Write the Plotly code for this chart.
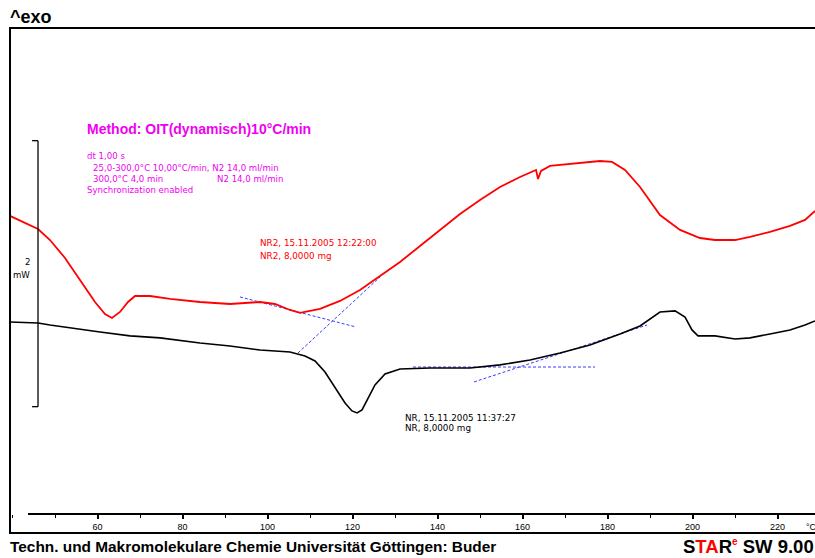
import plotly.graph_objects as go

# ---------------- data ----------------
temp_nr2 = [39.41, 46.0, 48.82, 52.35, 55.88, 59.41, 61.76, 63.41, 65.29, 67.18, 68.82, 72.35, 77.06,
            84.12, 91.18, 98.24, 101.76, 105.29, 107.65, 112.35, 117.06, 121.76, 126.47, 131.18,
            135.88, 140.59, 145.29, 150.0, 154.71, 159.41, 162.47, 163.18, 163.65, 164.35, 166.47,
            171.18, 178.24, 181.06, 184.12, 187.65, 192.35, 197.06, 201.76, 205.29, 210.0, 213.53,
            218.24, 222.94, 226.47, 228.82]
hf_nr2 = [1.534, 1.436, 1.353, 1.218, 1.053, 0.887, 0.797, 0.767, 0.812, 0.887, 0.932, 0.932, 0.910,
          0.887, 0.872, 0.887, 0.872, 0.827, 0.805, 0.835, 0.895, 0.977, 1.083, 1.188,
          1.308, 1.429, 1.549, 1.654, 1.752, 1.827, 1.872, 1.880, 1.812, 1.872, 1.910,
          1.925, 1.947, 1.940, 1.880, 1.752, 1.541, 1.429, 1.368, 1.353, 1.353, 1.376,
          1.414, 1.459, 1.504, 1.571]

temp_nr = [39.41, 46.0, 48.82, 53.53, 60.59, 67.65, 74.71, 84.12, 91.18, 98.24, 105.29, 108.82,
           111.18, 113.53, 115.88, 118.24, 119.88, 121.06, 122.24, 123.65, 125.29, 127.65, 131.18,
           138.24, 147.65, 154.71, 161.76, 168.82, 175.88, 182.94, 187.65, 192.35, 195.88, 198.24,
           199.88, 201.29, 205.29, 210.0, 213.53, 218.24, 222.94, 226.47, 228.82]
hf_nr = [0.737, 0.729, 0.714, 0.692, 0.662, 0.632, 0.617, 0.579, 0.556, 0.526, 0.511, 0.481,
         0.444, 0.361, 0.241, 0.128, 0.068, 0.053, 0.075, 0.165, 0.263, 0.346, 0.383,
         0.391, 0.391, 0.414, 0.451, 0.504, 0.564, 0.647, 0.707, 0.812, 0.820, 0.774,
         0.677, 0.632, 0.632, 0.609, 0.617, 0.647, 0.677, 0.714, 0.744]

# evaluation tangents (start/end temperature and heat flow)
tangent_temp = [[93.53, 120.82], [107.18, 126.47], [134.24, 177.06], [148.59, 189.29]]
tangent_hf = [[0.925, 0.699], [0.504, 1.075], [0.398, 0.398], [0.286, 0.714]]

x_ticks = [60, 80, 100, 120, 140, 160, 180, 200, 220]
x_range = [39.41, 228.82]
y_range = [-0.707, 2.947]

scale_bar_temp = 46.0
scale_bar_base = 0.1
scale_bar_mW = 2

W, H = 815, 558
ML, MR, MT, MB = 10, 0, 28, 25


def px(x):
    return (x - ML) / (W - ML - MR)


def py(y):
    return (H - MB - y) / (H - MT - MB)


fig = go.Figure()

for tt, hh in zip(tangent_temp, tangent_hf):
    fig.add_trace(go.Scatter(x=tt, y=hh, mode="lines",
                             line=dict(color="#3a3aff", width=1, dash="3px,2px"),
                             hoverinfo="skip", showlegend=False))

fig.add_trace(go.Scatter(x=temp_nr2, y=hf_nr2, mode="lines",
                         line=dict(color="#ff0000", width=1.8), showlegend=False))
fig.add_trace(go.Scatter(x=temp_nr, y=hf_nr, mode="lines",
                         line=dict(color="#000000", width=1.6), showlegend=False))

shapes = []
# outer frame
shapes.append(dict(type="rect", xref="paper", yref="paper", x0=0, x1=1.05, y0=0, y1=1,
                   line=dict(color="black", width=2), layer="above"))
# x axis line
shapes.append(dict(type="line", xref="paper", yref="paper", x0=px(28), x1=1.0,
                   y0=py(514), y1=py(514), line=dict(color="black", width=2)))
# scale bar
sb_top = scale_bar_base + scale_bar_mW
shapes.append(dict(type="line", x0=scale_bar_temp, x1=scale_bar_temp, y0=scale_bar_base, y1=sb_top,
                   line=dict(color="black", width=1.3)))
for yy in (scale_bar_base, sb_top):
    shapes.append(dict(type="line", x0=scale_bar_temp - 1.4, x1=scale_bar_temp, y0=yy, y1=yy,
                       line=dict(color="black", width=1.3)))

ann = []
SMALL = "DejaVu Sans, Verdana, sans-serif"
ARIAL = "Liberation Sans, Arial, sans-serif"


def text(x, y, s, size, color="black", bold=False, family=ARIAL, anchor="left"):
    ann.append(dict(xref="paper", yref="paper", x=px(x), y=py(y), text=s, showarrow=False,
                    xanchor=anchor, yanchor="middle", borderpad=0,
                    font=dict(size=size, color=color, family=family,
                              weight="bold" if bold else "normal")))


mag = "#f000f0"
text(9, 17, "^exo", 18, bold=True)
text(86, 129, "Method: OIT(dynamisch)10°C/min", 14, color=mag, bold=True)
text(86, 156, "dt 1,00 s", 8.6, color=mag, family=SMALL)
text(92, 168, "25,0-300,0°C 10,00°C/min, N2 14,0 ml/min", 8.6, color=mag, family=SMALL)
text(92, 179, "300,0°C 4,0 min", 8.6, color=mag, family=SMALL)
text(216, 179, "N2 14,0 ml/min", 8.6, color=mag, family=SMALL)
text(86, 190, "Synchronization enabled", 8.6, color=mag, family=SMALL)
text(31, 262, "2", 8.6, anchor="right", family=SMALL)
text(31, 275, "mW", 8.6, anchor="right", family=SMALL)
text(259, 243, "NR2, 15.11.2005 12:22:00", 8.8, color="#ff0000", family=SMALL)
text(259, 256, "NR2, 8,0000 mg", 8.8, color="#ff0000", family=SMALL)
text(404, 418, "NR, 15.11.2005 11:37:27", 8.8, family=SMALL)
text(404, 428, "NR, 8,0000 mg", 8.8, family=SMALL)
text(805, 527, "°C", 9)
text(9, 546, "Techn. und Makromolekulare Chemie Universität Göttingen: Buder", 15.4, bold=True,
     family="Liberation Sans Narrow, Arial Narrow, Liberation Sans, sans-serif")
text(815, 546,
     "S<span style='color:#ff0000'>TA</span>R<sup><span style='color:#ff0000;font-size:10px'>e</span></sup> SW 9.00",
     18.5, bold=True, anchor="right")

fig.update_layout(
    width=W, height=H,
    margin=dict(l=ML, r=MR, t=MT, b=MB, pad=0),
    paper_bgcolor="white", plot_bgcolor="white",
    shapes=shapes, annotations=ann,
    xaxis=dict(range=x_range, tickvals=x_ticks, ticktext=[str(v) for v in x_ticks],
               showgrid=False, zeroline=False, showline=False,
               ticks="outside", ticklen=4, tickwidth=1.5, tickcolor="black",
               minor=dict(dtick=10, tick0=0, ticks="outside", ticklen=3, tickwidth=1.2,
                          tickcolor="black", showgrid=False),
               tickfont=dict(size=9, color="black", family=ARIAL),
               fixedrange=True),
    yaxis=dict(range=y_range, domain=[py(514), 1], visible=False, fixedrange=True),
)

fig.write_html("out.html")
